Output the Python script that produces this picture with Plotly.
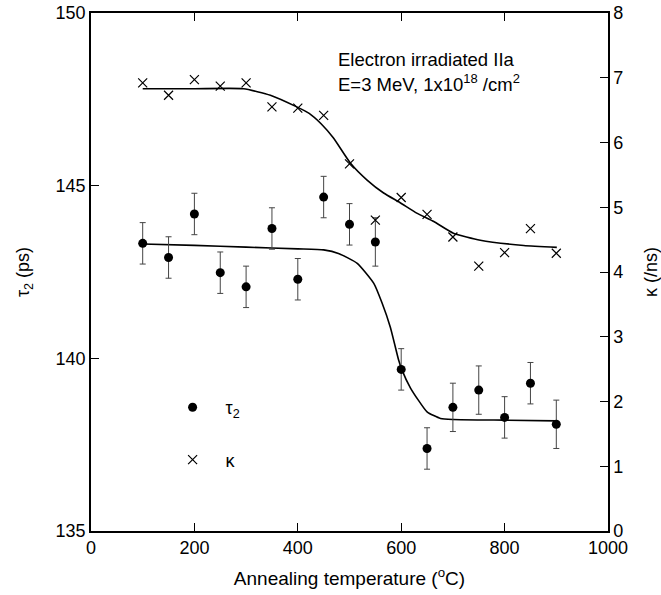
import plotly.graph_objects as go

# ---- data ----
temps = [100, 150, 200, 250, 300, 350, 400, 450, 500, 550, 600, 650, 700, 750, 800, 850, 900]
tau2 = [143.33, 142.92, 144.18, 142.48, 142.07, 143.76, 142.29, 144.67, 143.88, 143.37,
        139.68, 137.39, 138.58, 139.08, 138.29, 139.28, 138.09]
tau2_err = [0.6, 0.6, 0.6, 0.6, 0.6, 0.6, 0.6, 0.6, 0.6, 0.7, 0.6, 0.6, 0.7, 0.7, 0.6, 0.6, 0.7]
kappa = [6.92, 6.73, 6.97, 6.87, 6.92, 6.55, 6.53, 6.42, 5.67, 4.80,
         5.15, 4.89, 4.54, 4.09, 4.30, 4.67, 4.29]

tau_fit_t = [100, 200, 300, 400, 450, 480, 515, 547, 563, 579, 595, 601, 618, 650, 676, 700, 800, 900]
tau_fit_v = [143.31, 143.27, 143.22, 143.17, 143.14, 143.03, 142.75, 142.17, 141.6, 140.9,
             139.95, 139.68, 139.14, 138.45, 138.26, 138.23, 138.21, 138.19]
kap_fit_t = [100, 200, 295, 347, 398, 422, 445, 469, 502, 534, 566, 598, 630, 663, 701, 753, 837, 901]
kap_fit_v = [6.83, 6.83, 6.83, 6.73, 6.55, 6.45, 6.29, 6.07, 5.68, 5.42, 5.22, 5.07, 4.91, 4.78,
             4.60, 4.49, 4.41, 4.38]

x_ticks = [0, 200, 400, 600, 800, 1000]
y_ticks = [135, 140, 145, 150]
y2_ticks = [0, 1, 2, 3, 4, 5, 6, 7, 8]

FONT = "Liberation Sans, Arial, Helvetica, sans-serif"

fig = go.Figure()

fig.add_trace(go.Scatter(
    x=tau_fit_t, y=tau_fit_v, mode="lines",
    line=dict(color="black", width=1.6, shape="spline", smoothing=0.5),
    showlegend=False, hoverinfo="skip"))
fig.add_trace(go.Scatter(
    x=kap_fit_t, y=kap_fit_v, mode="lines", yaxis="y2",
    line=dict(color="black", width=1.6, shape="spline", smoothing=0.5),
    showlegend=False, hoverinfo="skip"))

fig.add_trace(go.Scatter(
    x=temps, y=tau2, mode="markers", name="τ<sub>2</sub>", legendgroup="a",
    marker=dict(symbol="circle", size=9, color="black"),
    error_y=dict(type="data", array=tau2_err, visible=True, color="#444", thickness=1, width=3)))
fig.add_trace(go.Scatter(
    x=temps, y=kappa, mode="markers", name="κ", yaxis="y2", legendgroup="b",
    marker=dict(symbol="x-thin", size=9, color="black", line=dict(color="black", width=1.2))))

axis_common = dict(
    showgrid=False, zeroline=False, showline=True, linecolor="black", linewidth=1.5,
    ticks="inside", ticklen=8, tickwidth=1.2, tickcolor="black",
    tickfont=dict(family=FONT, size=18, color="black"), automargin=False)

fig.update_layout(
    width=661, height=595,
    margin=dict(l=91, r=53, t=13, b=64),
    paper_bgcolor="white", plot_bgcolor="white",
    font=dict(family=FONT, size=18, color="black"),
    xaxis=dict(range=[0, 1000], tickvals=x_ticks, mirror="ticks",
               title=dict(text="Annealing temperature (<sup>o</sup>C)", standoff=14,
                          font=dict(family=FONT, size=19)),
               **axis_common),
    yaxis=dict(range=[135, 150], tickvals=y_ticks,
               title=dict(text="τ<sub>2</sub> (ps)", standoff=21, font=dict(family=FONT, size=18)),
               **axis_common),
    yaxis2=dict(range=[0, 8], tickvals=y2_ticks, overlaying="y", side="right",
                title=dict(text="κ (/ns)", standoff=24, font=dict(family=FONT, size=18)),
                **axis_common),
    legend=dict(x=0.1327, y=0.274, xanchor="left", yanchor="top", bgcolor="rgba(0,0,0,0)",
                traceorder="grouped", tracegroupgap=26, itemwidth=56,
                font=dict(family=FONT, size=18)),
    showlegend=True,
    annotations=[
        dict(text="Electron irradiated IIa", xref="paper", yref="paper", x=0.4745, y=0.911,
             xanchor="left", yanchor="middle", showarrow=False, font=dict(family=FONT, size=18.5)),
        dict(text="E=3 MeV, 1x10<sup>18</sup> /cm<sup>2</sup>", xref="paper", yref="paper",
             x=0.4745, y=0.865, xanchor="left", yanchor="middle", showarrow=False,
             font=dict(family=FONT, size=18.5)),
    ],
)

fig.write_html("out.html")
